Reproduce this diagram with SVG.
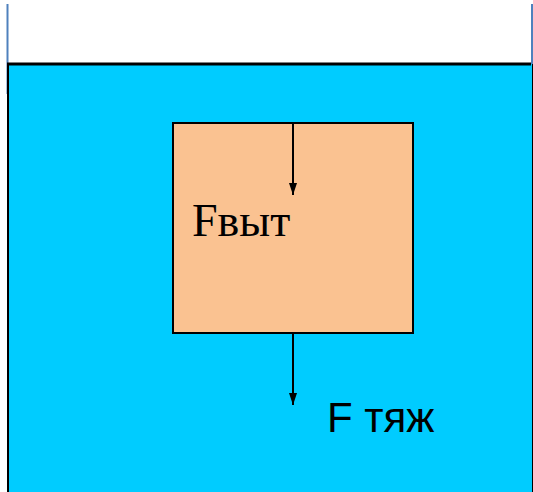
<svg xmlns="http://www.w3.org/2000/svg" width="533" height="492" viewBox="0 0 533 492">
<defs>
<style>
.edge{stroke:#000;stroke-width:2;fill:none}
</style>
<marker id="ah" markerWidth="12" markerHeight="8" refX="12" refY="4" orient="auto" markerUnits="userSpaceOnUse" viewBox="0 0 12 8">
<path d="M0,0 L12,4 L0,8 Z" fill="#000"/>
</marker>
</defs>
<rect x="0" y="0" width="533" height="492" fill="#fff"/>
<g id="vessel">
<line x1="7.5" y1="4" x2="7.5" y2="94" stroke="#4F81BD" stroke-width="2"/>
<line x1="532" y1="4" x2="532" y2="64" stroke="#4F81BD" stroke-width="2"/>
<rect x="8" y="64" width="524" height="428" fill="#00CCFF"/>
<line x1="7" y1="64" x2="531" y2="64" stroke="#000" stroke-width="3"/>
<line x1="8" y1="64" x2="8" y2="492" stroke="#000" stroke-width="2"/>
<line x1="532.5" y1="64" x2="532.5" y2="492" stroke="#000" stroke-width="1"/>
</g>
<g id="body">
<rect x="173" y="123" width="240" height="210" fill="#FAC291" stroke="#000" stroke-width="2"/>
<text x="192" y="236" font-family="'Liberation Serif', serif" font-size="46" fill="#000">Fвыт</text>
</g>
<g id="connectors">
<line class="edge" x1="293" y1="124" x2="293" y2="195" marker-end="url(#ah)"/>
<line class="edge" x1="293" y1="334" x2="293" y2="405" marker-end="url(#ah)"/>
</g>
<g id="label-gravity">
<text x="327" y="432" font-family="'Liberation Sans', sans-serif" font-size="42" fill="#000">F тяж</text>
</g>
</svg>
